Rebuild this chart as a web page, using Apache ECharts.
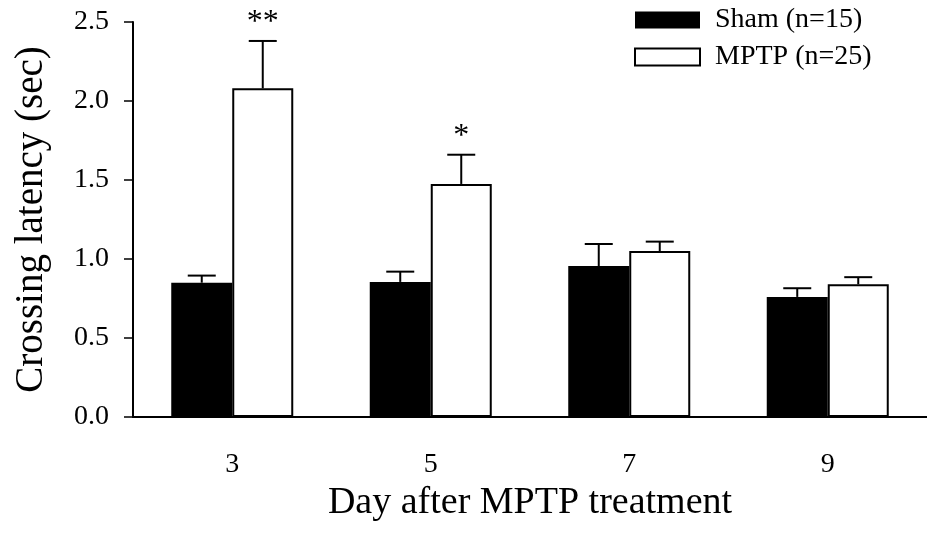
<!DOCTYPE html>
<html>
<head>
<meta charset="utf-8">
<script src="https://cdn.jsdelivr.net/npm/echarts@6/dist/echarts.min.js"></script>
<style>html,body{margin:0;padding:0;background:#fff}#c{width:927px;height:533px}</style>
</head>
<body>
<div id="c"></div>
<script>
var days = ['3', '5', '7', '9'];
var shamMean = [0.85, 0.855, 0.955, 0.76];
var shamErr = [0.045, 0.065, 0.14, 0.055];
var mptpMean = [2.08, 1.475, 1.05, 0.84];
var mptpErr = [0.30, 0.185, 0.06, 0.045];
var stars = ['**', '*', '', ''];
var yTicks = [0, 0.5, 1.0, 1.5, 2.0, 2.5];

var FONT = 'Liberation Serif';
var BW = 61;

function errSeries(name, means, errs, side, marks) {
  return {
    type: 'custom',
    name: name + ' err',
    z: 5,
    silent: true,
    data: means.map(function (m, i) { return [i, m, errs[i]]; }),
    renderItem: function (params, api) {
      var i = api.value(0), m = api.value(1), e = api.value(2);
      var base = api.coord([i, m]);
      var top = api.coord([i, m + e]);
      var x = base[0] + side * BW / 2;
      var children = [
        { type: 'line', shape: { x1: x, y1: base[1], x2: x, y2: top[1] }, style: { stroke: '#000', lineWidth: 2 } },
        { type: 'line', shape: { x1: x - 14, y1: top[1], x2: x + 14, y2: top[1] }, style: { stroke: '#000', lineWidth: 2 } }
      ];
      var s = marks ? marks[i] : '';
      if (s) {
        children.push({ type: 'text', style: { text: s, x: x, y: top[1] - 18, align: 'center', verticalAlign: 'middle', font: '32px "' + FONT + '"', fill: '#000' } });
      }
      return { type: 'group', children: children };
    }
  };
}

var chart = echarts.init(document.getElementById('c'), null, { renderer: 'canvas' });
chart.setOption({
  animation: false,
  backgroundColor: '#fff',
  grid: { left: 133, top: 22, width: 800, bottom: 116, containLabel: false },
  legend: {
    orient: 'vertical',
    left: 634, top: 6,
    padding: 0,
    itemWidth: 65, itemHeight: 17,
    itemGap: 9,
    selectedMode: false,
    textStyle: { fontFamily: FONT, fontSize: 28, color: '#000', padding: [0, 0, 0, 10] },
    data: [
      { name: 'Sham (n=15)', icon: 'rect', itemStyle: { color: '#000', borderColor: '#000', borderWidth: 0 } },
      { name: 'MPTP (n=25)', icon: 'rect', itemStyle: { color: '#fff', borderColor: '#000', borderWidth: 2 } }
    ]
  },
  xAxis: {
    type: 'category',
    data: days,
    name: 'Day after MPTP treatment',
    nameLocation: 'middle',
    nameGap: 59,
    nameTextStyle: { fontFamily: FONT, fontSize: 38, color: '#000' },
    axisLine: { lineStyle: { color: '#000', width: 2 } },
    axisTick: { alignWithLabel: true, length: 9, lineStyle: { color: '#000', width: 1.5 } },
    axisLabel: { margin: 34, fontFamily: FONT, fontSize: 28, color: '#000' }
  },
  yAxis: {
    type: 'value',
    min: 0, max: 2.5, interval: 0.5,
    name: 'Crossing latency (sec)',
    nameLocation: 'middle',
    nameGap: 82,
    nameTextStyle: { fontFamily: FONT, fontSize: 39, color: '#000' },
    axisLine: { show: true, lineStyle: { color: '#000', width: 2 } },
    axisTick: { show: true, length: 9, lineStyle: { color: '#000', width: 1.5 } },
    splitLine: { show: false },
    axisLabel: {
      margin: 24, fontFamily: FONT, fontSize: 28, color: '#000',
      formatter: function (v) { return yTicks.indexOf(v) >= 0 ? v.toFixed(1) : ''; }
    }
  },
  series: [
    {
      type: 'bar', name: 'Sham (n=15)', data: shamMean, barWidth: BW, barGap: '0%',
      itemStyle: { color: '#000', borderColor: '#000', borderWidth: 0 }
    },
    {
      type: 'bar', name: 'MPTP (n=25)', data: mptpMean, barWidth: BW, barGap: '0%',
      itemStyle: { color: '#fff', borderColor: '#000', borderWidth: 2 }
    },
    errSeries('Sham', shamMean, shamErr, -1, null),
    errSeries('MPTP', mptpMean, mptpErr, 1, stars)
  ]
});
</script>
</body>
</html>
